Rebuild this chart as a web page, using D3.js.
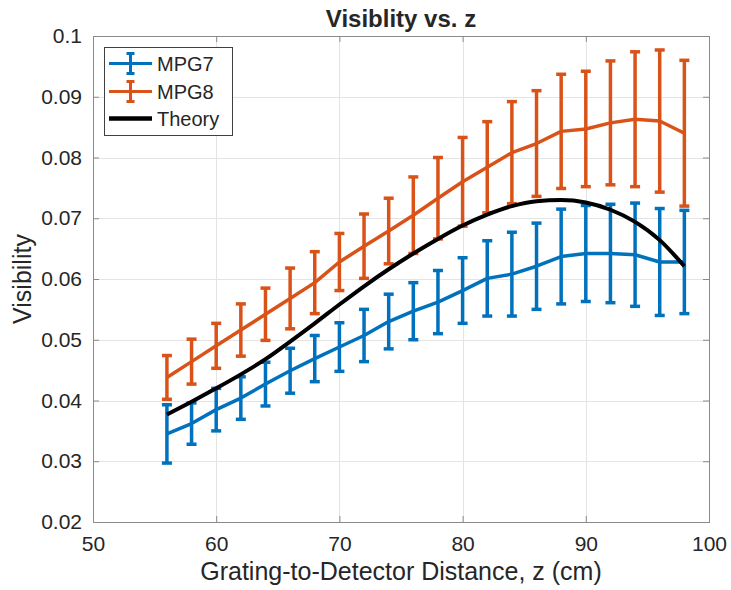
<!DOCTYPE html>
<html>
<head>
<meta charset="utf-8">
<script src="https://cdn.jsdelivr.net/npm/d3@7"></script>
<style>
  body { margin: 0; background: #fff; }
  text { font-family: "Liberation Sans", Arial, Helvetica, sans-serif; fill: #262626; }
</style>
</head>
<body>
<div id="graph"></div>
<script>
// distance z (cm)
var zValues = [56, 58, 60, 62, 64, 66, 68, 70, 72, 74, 76, 78, 80, 82, 84, 86, 88, 90, 92, 94, 96, 98];

// MPG7 visibility + error
var mpg7 = [0.0345, 0.0362, 0.0385, 0.0404, 0.0427, 0.0449, 0.0469, 0.0488, 0.0507, 0.0530, 0.0547,
            0.0562, 0.0581, 0.0601, 0.0608, 0.0621, 0.0637, 0.0642, 0.0642, 0.0640, 0.0628, 0.0628];
var mpg7Err = [0.0048, 0.0034, 0.0035, 0.0035, 0.0036, 0.0037, 0.0038, 0.0040, 0.0043, 0.0045, 0.0047,
               0.0052, 0.0054, 0.0062, 0.0069, 0.0071, 0.0078, 0.0079, 0.0081, 0.0085, 0.0088, 0.0085];

// MPG8 visibility + error
var mpg8 = [0.0438, 0.0464, 0.0490, 0.0516, 0.0542, 0.0568, 0.0594, 0.0628, 0.0654, 0.0679, 0.0705,
            0.0733, 0.0760, 0.0784, 0.0808, 0.0823, 0.0843, 0.0847, 0.0857, 0.0863, 0.0860, 0.0840];
var mpg8Err = [0.0036, 0.0037, 0.0037, 0.0043, 0.0043, 0.0050, 0.0051, 0.0047, 0.0053, 0.0054, 0.0063,
               0.0067, 0.0073, 0.0075, 0.0084, 0.0087, 0.0094, 0.0095, 0.0102, 0.0111, 0.0117, 0.0120];

// theory curve
var theory = [0.0377, 0.0398, 0.0420, 0.0443, 0.0468, 0.0497, 0.0527, 0.0558, 0.0588, 0.0616, 0.0642,
              0.0666, 0.0688, 0.0706, 0.0720, 0.0728, 0.0730, 0.0726, 0.0714, 0.0694, 0.0664, 0.0621];

var xTicks = [50, 60, 70, 80, 90, 100];
var yTicks = [0.02, 0.03, 0.04, 0.05, 0.06, 0.07, 0.08, 0.09, 0.1];

var seriesNames = ["MPG7", "MPG8", "Theory"];
var seriesColors = ["#0072BD", "#D95319", "#000000"];

var WIDTH = 731, HEIGHT = 590;
var LEFT = 93, RIGHT = 709, TOP = 36, BOTTOM = 522;
var LINE_W = 3.5;
var CAP = 5;

var svg = d3.select("#graph")
            .append("svg")
              .attr("width", WIDTH)
              .attr("height", HEIGHT);

var xscale = d3.scaleLinear().domain([50, 100]).range([LEFT, RIGHT]);
var yscale = d3.scaleLinear().domain([0.02, 0.1]).range([BOTTOM, TOP]);

// grid lines
var grid = svg.append("g").attr("stroke", "#e4e4e4").attr("stroke-width", 1);
grid.selectAll(".gx").data(xTicks).enter().append("line")
    .attr("x1", d => Math.round(xscale(d)) + 0.5).attr("x2", d => Math.round(xscale(d)) + 0.5)
    .attr("y1", TOP).attr("y2", BOTTOM);
grid.selectAll(".gy").data(yTicks).enter().append("line")
    .attr("y1", d => Math.round(yscale(d)) + 0.5).attr("y2", d => Math.round(yscale(d)) + 0.5)
    .attr("x1", LEFT).attr("x2", RIGHT);

// axes (ticks point inward like matlab)
var fmt = d => String(+d.toFixed(2));

var xAxis = svg.append("g")
               .attr("transform", "translate(0," + BOTTOM + ")")
               .call(d3.axisBottom(xscale).tickValues(xTicks).tickFormat(fmt)
                       .tickSizeInner(-6).tickSizeOuter(0).tickPadding(14));
var yAxis = svg.append("g")
               .attr("transform", "translate(" + LEFT + ",0)")
               .call(d3.axisLeft(yscale).tickValues(yTicks).tickFormat(fmt)
                       .tickSizeInner(-6).tickSizeOuter(0).tickPadding(11));
svg.append("g")
   .attr("transform", "translate(0," + TOP + ")")
   .call(d3.axisTop(xscale).tickValues(xTicks).tickFormat("").tickSizeInner(-6).tickSizeOuter(0));
svg.append("g")
   .attr("transform", "translate(" + RIGHT + ",0)")
   .call(d3.axisRight(yscale).tickValues(yTicks).tickFormat("").tickSizeInner(-6).tickSizeOuter(0));

svg.selectAll(".domain").remove();
svg.selectAll(".tick line").attr("stroke", "#8a8a8a");
svg.selectAll(".tick text").attr("font-size", 21).attr("fill", "#262626")
   .attr("font-family", "'Liberation Sans', Arial, Helvetica, sans-serif");

// axis box
svg.append("rect")
   .attr("x", LEFT + 0.5).attr("y", TOP + 0.5)
   .attr("width", RIGHT - LEFT).attr("height", BOTTOM - TOP)
   .attr("fill", "none").attr("stroke", "#8a8a8a").attr("stroke-width", 1);

// line + vertical error bars with caps
function drawErrorSeries(values, errs, color) {
  let g = svg.append("g").attr("stroke", color).attr("stroke-width", LINE_W).attr("fill", "none");

  g.append("path")
   .datum(values)
   .attr("stroke-linejoin", "round")
   .attr("d", d3.line().x((d, i) => xscale(zValues[i])).y(d => yscale(d)));

  for (let i in values) {
    let x = xscale(zValues[i]);
    let hi = yscale(values[i] + errs[i]);
    let lo = yscale(values[i] - errs[i]);
    g.append("line").attr("x1", x).attr("x2", x).attr("y1", hi).attr("y2", lo);
    g.append("line").attr("x1", x - CAP).attr("x2", x + CAP).attr("y1", hi).attr("y2", hi);
    g.append("line").attr("x1", x - CAP).attr("x2", x + CAP).attr("y1", lo).attr("y2", lo);
  }
}

drawErrorSeries(mpg7, mpg7Err, seriesColors[0]);
drawErrorSeries(mpg8, mpg8Err, seriesColors[1]);

svg.append("path")
   .datum(theory)
   .attr("fill", "none")
   .attr("stroke", seriesColors[2])
   .attr("stroke-width", 4)
   .attr("stroke-linejoin", "round")
   .attr("d", d3.line().curve(d3.curveMonotoneX).x((d, i) => xscale(zValues[i])).y(d => yscale(d)));

// legend
var legend = svg.append("g");
legend.append("rect")
      .attr("x", 104.5).attr("y", 47.5).attr("width", 128).attr("height", 88)
      .attr("fill", "#fff").attr("stroke", "#404040").attr("stroke-width", 1);

var rowY = [63.5, 91.5, 118.5];
seriesNames.forEach(function(name, i) {
  let y = rowY[i];
  legend.append("line")
        .attr("x1", 109).attr("x2", 152).attr("y1", y).attr("y2", y)
        .attr("stroke", seriesColors[i]).attr("stroke-width", i === 2 ? 4.5 : 3);
  if (i < 2) {
    legend.append("line").attr("x1", 130.5).attr("x2", 130.5).attr("y1", y - 10).attr("y2", y + 10)
          .attr("stroke", seriesColors[i]).attr("stroke-width", 3);
    legend.append("line").attr("x1", 126.5).attr("x2", 134.5).attr("y1", y - 10).attr("y2", y - 10)
          .attr("stroke", seriesColors[i]).attr("stroke-width", 3);
    legend.append("line").attr("x1", 126.5).attr("x2", 134.5).attr("y1", y + 10).attr("y2", y + 10)
          .attr("stroke", seriesColors[i]).attr("stroke-width", 3);
  }
  legend.append("text")
        .attr("x", 157).attr("y", y).attr("dy", "0.36em")
        .attr("font-size", 20).attr("fill", "#000")
        .text(name);
});

// titles
svg.append("text")
   .attr("x", (LEFT + RIGHT) / 2).attr("y", 27)
   .attr("text-anchor", "middle").attr("font-size", 24).attr("font-weight", "bold").attr("fill", "#000")
   .text("Visiblity vs. z");

svg.append("text")
   .attr("x", (LEFT + RIGHT) / 2).attr("y", 580)
   .attr("text-anchor", "middle").attr("font-size", 25)
   .text("Grating-to-Detector Distance, z (cm)");

svg.append("text")
   .attr("transform", "translate(31," + (TOP + BOTTOM) / 2 + ") rotate(-90)")
   .attr("text-anchor", "middle").attr("font-size", 25)
   .text("Visibility");
</script>
</body>
</html>
